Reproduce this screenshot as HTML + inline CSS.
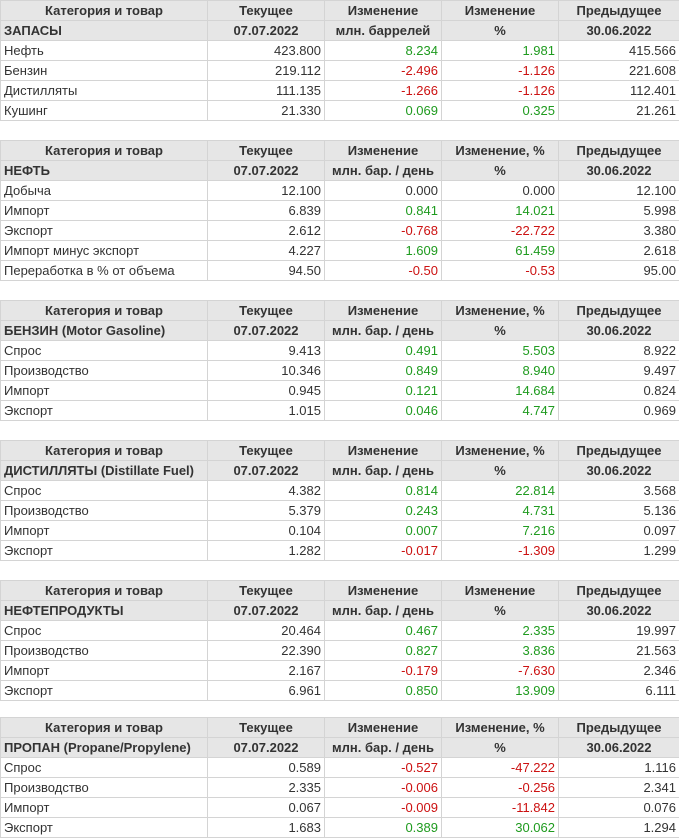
<!DOCTYPE html>
<html><head><meta charset="utf-8"><style>
body{margin:0;background:#fff;font-family:"Liberation Sans",Arial,sans-serif;font-size:13px;color:#333;width:679px;height:838px;overflow:hidden;position:relative}
table{position:absolute;left:0;border-collapse:collapse;width:679px;table-layout:fixed}
td{height:19px;border:1px solid #d4d4d4;padding:0 3px;white-space:nowrap;overflow:hidden;text-align:right;line-height:19px}
tr.h td{background:#e6e6e6;font-weight:bold;text-align:center;color:#333}
tr.h td.l{text-align:left}
td.n{text-align:left}
.g{color:#1f9b1f}.r{color:#cc1111}
</style></head><body>
<table style="top:0"><colgroup><col style="width:207px"><col style="width:117px"><col style="width:117px"><col style="width:117px"><col style="width:121px"></colgroup>
<tr class="h"><td>Категория и товар</td><td>Текущее</td><td>Изменение</td><td>Изменение</td><td>Предыдущее</td></tr>
<tr class="h"><td class="l">ЗАПАСЫ</td><td>07.07.2022</td><td>млн. баррелей</td><td>%</td><td>30.06.2022</td></tr>
<tr><td class="n">Нефть</td><td>423.800</td><td class="g">8.234</td><td class="g">1.981</td><td>415.566</td></tr>
<tr><td class="n">Бензин</td><td>219.112</td><td class="r">-2.496</td><td class="r">-1.126</td><td>221.608</td></tr>
<tr><td class="n">Дистилляты</td><td>111.135</td><td class="r">-1.266</td><td class="r">-1.126</td><td>112.401</td></tr>
<tr><td class="n">Кушинг</td><td>21.330</td><td class="g">0.069</td><td class="g">0.325</td><td>21.261</td></tr>
</table>
<table style="top:140px"><colgroup><col style="width:207px"><col style="width:117px"><col style="width:117px"><col style="width:117px"><col style="width:121px"></colgroup>
<tr class="h"><td>Категория и товар</td><td>Текущее</td><td>Изменение</td><td>Изменение, %</td><td>Предыдущее</td></tr>
<tr class="h"><td class="l">НЕФТЬ</td><td>07.07.2022</td><td>млн. бар. / день</td><td>%</td><td>30.06.2022</td></tr>
<tr><td class="n">Добыча</td><td>12.100</td><td>0.000</td><td>0.000</td><td>12.100</td></tr>
<tr><td class="n">Импорт</td><td>6.839</td><td class="g">0.841</td><td class="g">14.021</td><td>5.998</td></tr>
<tr><td class="n">Экспорт</td><td>2.612</td><td class="r">-0.768</td><td class="r">-22.722</td><td>3.380</td></tr>
<tr><td class="n">Импорт минус экспорт</td><td>4.227</td><td class="g">1.609</td><td class="g">61.459</td><td>2.618</td></tr>
<tr><td class="n">Переработка в % от объема</td><td>94.50</td><td class="r">-0.50</td><td class="r">-0.53</td><td>95.00</td></tr>
</table>
<table style="top:300px"><colgroup><col style="width:207px"><col style="width:117px"><col style="width:117px"><col style="width:117px"><col style="width:121px"></colgroup>
<tr class="h"><td>Категория и товар</td><td>Текущее</td><td>Изменение</td><td>Изменение, %</td><td>Предыдущее</td></tr>
<tr class="h"><td class="l">БЕНЗИН (Motor Gasoline)</td><td>07.07.2022</td><td>млн. бар. / день</td><td>%</td><td>30.06.2022</td></tr>
<tr><td class="n">Спрос</td><td>9.413</td><td class="g">0.491</td><td class="g">5.503</td><td>8.922</td></tr>
<tr><td class="n">Производство</td><td>10.346</td><td class="g">0.849</td><td class="g">8.940</td><td>9.497</td></tr>
<tr><td class="n">Импорт</td><td>0.945</td><td class="g">0.121</td><td class="g">14.684</td><td>0.824</td></tr>
<tr><td class="n">Экспорт</td><td>1.015</td><td class="g">0.046</td><td class="g">4.747</td><td>0.969</td></tr>
</table>
<table style="top:440px"><colgroup><col style="width:207px"><col style="width:117px"><col style="width:117px"><col style="width:117px"><col style="width:121px"></colgroup>
<tr class="h"><td>Категория и товар</td><td>Текущее</td><td>Изменение</td><td>Изменение, %</td><td>Предыдущее</td></tr>
<tr class="h"><td class="l">ДИСТИЛЛЯТЫ (Distillate Fuel)</td><td>07.07.2022</td><td>млн. бар. / день</td><td>%</td><td>30.06.2022</td></tr>
<tr><td class="n">Спрос</td><td>4.382</td><td class="g">0.814</td><td class="g">22.814</td><td>3.568</td></tr>
<tr><td class="n">Производство</td><td>5.379</td><td class="g">0.243</td><td class="g">4.731</td><td>5.136</td></tr>
<tr><td class="n">Импорт</td><td>0.104</td><td class="g">0.007</td><td class="g">7.216</td><td>0.097</td></tr>
<tr><td class="n">Экспорт</td><td>1.282</td><td class="r">-0.017</td><td class="r">-1.309</td><td>1.299</td></tr>
</table>
<table style="top:580px"><colgroup><col style="width:207px"><col style="width:117px"><col style="width:117px"><col style="width:117px"><col style="width:121px"></colgroup>
<tr class="h"><td>Категория и товар</td><td>Текущее</td><td>Изменение</td><td>Изменение</td><td>Предыдущее</td></tr>
<tr class="h"><td class="l">НЕФТЕПРОДУКТЫ</td><td>07.07.2022</td><td>млн. бар. / день</td><td>%</td><td>30.06.2022</td></tr>
<tr><td class="n">Спрос</td><td>20.464</td><td class="g">0.467</td><td class="g">2.335</td><td>19.997</td></tr>
<tr><td class="n">Производство</td><td>22.390</td><td class="g">0.827</td><td class="g">3.836</td><td>21.563</td></tr>
<tr><td class="n">Импорт</td><td>2.167</td><td class="r">-0.179</td><td class="r">-7.630</td><td>2.346</td></tr>
<tr><td class="n">Экспорт</td><td>6.961</td><td class="g">0.850</td><td class="g">13.909</td><td>6.111</td></tr>
</table>
<table style="top:717px"><colgroup><col style="width:207px"><col style="width:117px"><col style="width:117px"><col style="width:117px"><col style="width:121px"></colgroup>
<tr class="h"><td>Категория и товар</td><td>Текущее</td><td>Изменение</td><td>Изменение, %</td><td>Предыдущее</td></tr>
<tr class="h"><td class="l">ПРОПАН (Propane/Propylene)</td><td>07.07.2022</td><td>млн. бар. / день</td><td>%</td><td>30.06.2022</td></tr>
<tr><td class="n">Спрос</td><td>0.589</td><td class="r">-0.527</td><td class="r">-47.222</td><td>1.116</td></tr>
<tr><td class="n">Производство</td><td>2.335</td><td class="r">-0.006</td><td class="r">-0.256</td><td>2.341</td></tr>
<tr><td class="n">Импорт</td><td>0.067</td><td class="r">-0.009</td><td class="r">-11.842</td><td>0.076</td></tr>
<tr><td class="n">Экспорт</td><td>1.683</td><td class="g">0.389</td><td class="g">30.062</td><td>1.294</td></tr>
</table>
</body></html>
